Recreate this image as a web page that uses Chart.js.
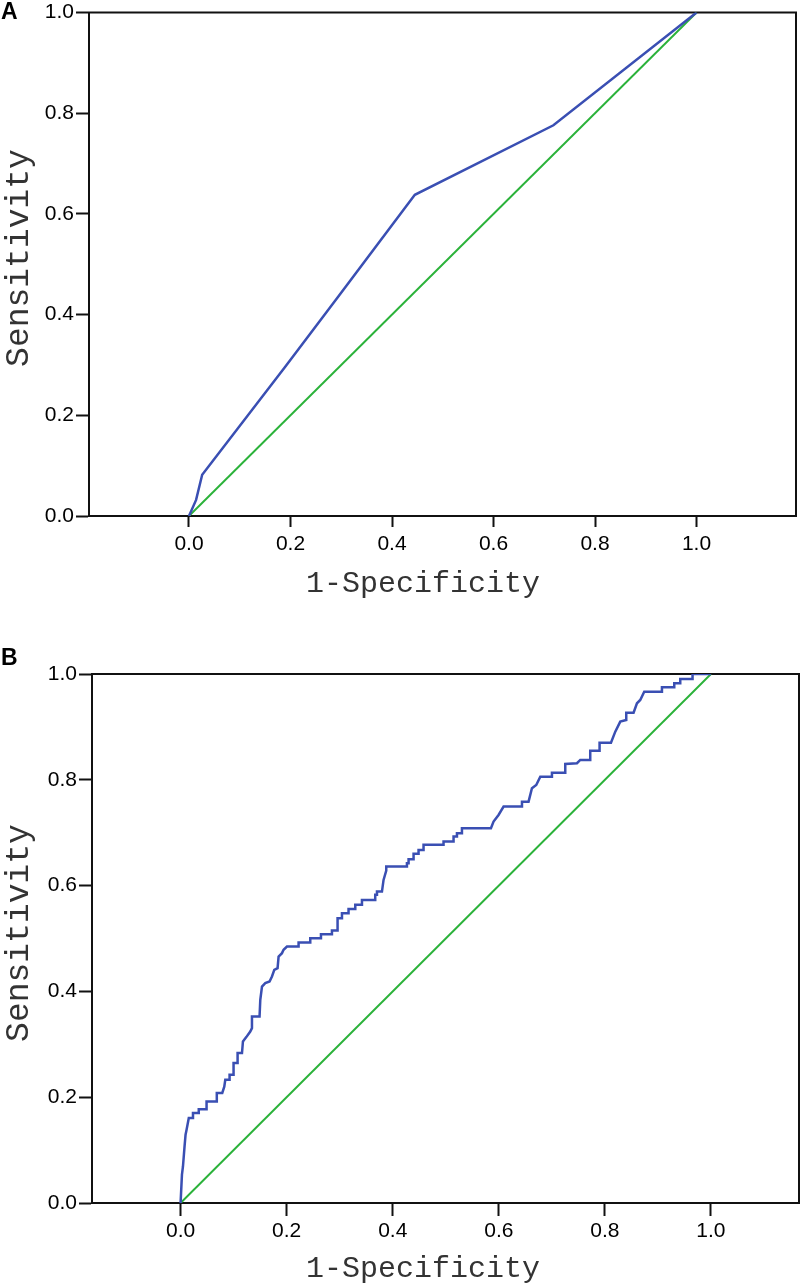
<!DOCTYPE html>
<html>
<head>
<meta charset="utf-8">
<script src="https://cdn.jsdelivr.net/npm/chart.js@4.4.1/dist/chart.umd.min.js"></script>
<style>
  html, body { margin: 0; padding: 0; background: #fff; }
  body { width: 800px; height: 1284px; position: relative; overflow: hidden; }
  .panel { position: absolute; left: 0; width: 800px; height: 642px; }
  .tag { position: absolute; font: bold 23px "Liberation Sans", Arial, sans-serif; color: #000; }
</style>
</head>
<body>
<div class="panel" style="top:0"><canvas id="rocA"></canvas></div>
<div class="panel" style="top:642px"><canvas id="rocB"></canvas></div>
<div class="tag" style="left:1px; top:-2px">A</div>
<div class="tag" style="left:1px; top:644px">B</div>
<script>
"use strict";

// Panel A: ROC curve vertices (1-specificity, sensitivity)
const fprA = [0, 0.014, 0.026, 0.19, 0.295, 0.445, 0.718, 1.0];
const tprA = [0, 0.032, 0.082, 0.297, 0.437, 0.638, 0.776, 1.0];

// Panel B: ROC curve vertices
const fprB = [
  0, 0.0026, 0.0045, 0.0075, 0.0094, 0.0113, 0.0155, 0.0234, 0.0234, 0.0343,
  0.0343, 0.049, 0.049, 0.0683, 0.0683, 0.0786, 0.0824, 0.0843, 0.0924, 0.0924,
  0.0999, 0.0999, 0.1075, 0.1075, 0.1158, 0.1176, 0.1239, 0.1314, 0.1346, 0.1346,
  0.1489, 0.1503, 0.1535, 0.1597, 0.1678, 0.1723, 0.1767, 0.1829, 0.1848, 0.1912,
  0.1942, 0.2006, 0.2225, 0.2225, 0.2445, 0.2445, 0.2647, 0.2647, 0.2854, 0.2854,
  0.296, 0.296, 0.3043, 0.3043, 0.3167, 0.3167, 0.3294, 0.3294, 0.342, 0.342,
  0.367, 0.367, 0.3703, 0.3703, 0.3797, 0.3827, 0.3878, 0.3878, 0.4268, 0.4268,
  0.4299, 0.4299, 0.4393, 0.4393, 0.4487, 0.4487, 0.4581, 0.4581, 0.4958, 0.4958,
  0.5147, 0.5147, 0.5211, 0.5211, 0.5305, 0.5305, 0.5852, 0.5901, 0.5995, 0.609,
  0.6437, 0.6437, 0.6561, 0.6625, 0.6706, 0.6782, 0.7002, 0.7002, 0.7253, 0.7253,
  0.7474, 0.7536, 0.7724, 0.7724, 0.79, 0.79, 0.8115, 0.8196, 0.829, 0.8403,
  0.8403, 0.8541, 0.8605, 0.8667, 0.8742, 0.9076, 0.9076, 0.9308, 0.9308, 0.9421,
  0.9421, 0.9653, 0.9653, 1.0
];
const tprB = [
  0, 0.0535, 0.069, 0.107, 0.129, 0.1385, 0.1606, 0.1606, 0.170, 0.170,
  0.177, 0.177, 0.192, 0.192, 0.208, 0.208, 0.220, 0.233, 0.233, 0.2424,
  0.2424, 0.2645, 0.2645, 0.2834, 0.2834, 0.3053, 0.3136, 0.3242, 0.3306, 0.3525,
  0.3525, 0.3841, 0.4092, 0.4156, 0.4187, 0.4281, 0.4408, 0.444, 0.4659, 0.4723,
  0.4786, 0.4848, 0.4848, 0.4924, 0.4924, 0.5007, 0.5007, 0.5082, 0.5082, 0.515,
  0.515, 0.5385, 0.5385, 0.5479, 0.5479, 0.556, 0.556, 0.5636, 0.5636, 0.573,
  0.573, 0.5825, 0.5825, 0.5887, 0.5887, 0.6108, 0.6284, 0.6359, 0.6359, 0.6424,
  0.6424, 0.65, 0.65, 0.66, 0.66, 0.6675, 0.6675, 0.677, 0.677, 0.6832,
  0.6832, 0.6926, 0.6926, 0.699, 0.699, 0.7085, 0.7085, 0.721, 0.7336, 0.7493,
  0.7493, 0.7587, 0.7587, 0.784, 0.7903, 0.806, 0.806, 0.8135, 0.8135, 0.83,
  0.8313, 0.8375, 0.8375, 0.855, 0.855, 0.8702, 0.8702, 0.891, 0.9099, 0.9131,
  0.9269, 0.9269, 0.9447, 0.9509, 0.9666, 0.9666, 0.9749, 0.9749, 0.9824, 0.9824,
  0.9906, 0.9906, 1.0, 1.0
];

// Reference line
const refX = [0, 1];
const refY = [0, 1];

const tickValues = [0, 0.2, 0.4, 0.6, 0.8, 1.0];

const toPoints = (xs, ys) => xs.map((x, i) => ({ x: x, y: ys[i] }));

// Draws the full box round the plot area
const frame = {
  id: 'frame',
  beforeDatasetsDraw(chart) {
    const { ctx, chartArea: a } = chart;
    ctx.save();
    ctx.strokeStyle = '#111';
    ctx.lineWidth = 2;
    ctx.strokeRect(a.left, a.top, a.right - a.left, a.bottom - a.top);
    ctx.restore();
  }
};

// Axis titles, placed where the reference has them
const axisTitles = {
  id: 'axisTitles',
  afterDraw(chart, args, opts) {
    const { ctx } = chart;
    ctx.save();
    ctx.fillStyle = '#333';
    ctx.textAlign = 'center';
    ctx.textBaseline = 'alphabetic';
    ctx.font = '30px "Liberation Mono", "Courier New", monospace';
    ctx.fillText('1-Specificity', opts.xTitle[0], opts.xTitle[1]);
    ctx.font = '33px "Liberation Mono", "Courier New", monospace';
    ctx.translate(opts.yTitle[0], opts.yTitle[1]);
    ctx.rotate(-Math.PI / 2);
    ctx.fillText('Sensitivity', 0, 0);
    ctx.restore();
  }
};

function makeRoc(canvasId, cfg) {
  const tickFont = { family: '"Liberation Sans", Arial, sans-serif', size: 21, lineHeight: 1 };
  return new Chart(document.getElementById(canvasId), {
    type: 'scatter',
    data: {
      datasets: [
        {
          label: 'ROC',
          data: toPoints(cfg.fpr, cfg.tpr),
          showLine: true,
          borderColor: '#3a4fb3',
          borderWidth: 2.5,
          pointRadius: 0,
          tension: 0
        },
        {
          label: 'Reference',
          data: toPoints(refX, refY),
          showLine: true,
          borderColor: '#2bb23a',
          borderWidth: 2,
          pointRadius: 0,
          tension: 0
        }
      ]
    },
    options: {
      responsive: true,
      maintainAspectRatio: false,
      animation: false,
      events: [],
      layout: { padding: cfg.padding },
      plugins: {
        legend: { display: false },
        tooltip: { enabled: false },
        axisTitles: { xTitle: cfg.xTitle, yTitle: cfg.yTitle }
      },
      scales: {
        x: {
          type: 'linear',
          min: cfg.xMin,
          max: cfg.xMax,
          afterBuildTicks: (s) => { s.ticks = tickValues.map(v => ({ value: v })); },
          afterFit: (s) => { s.height = cfg.xAxisHeight; },
          border: { display: true, color: '#111', width: 2 },
          grid: { drawOnChartArea: false, drawTicks: true, tickLength: cfg.xTickLen, tickWidth: 2, tickColor: '#111' },
          ticks: { color: '#000', font: tickFont, padding: cfg.xTickPad, maxRotation: 0, callback: (v) => v.toFixed(1) }
        },
        y: {
          type: 'linear',
          min: 0,
          max: 1,
          afterBuildTicks: (s) => { s.ticks = tickValues.map(v => ({ value: v })); },
          afterFit: (s) => { s.width = cfg.yAxisWidth; },
          border: { display: true, color: '#111', width: 2 },
          grid: { drawOnChartArea: false, drawTicks: true, tickLength: 13, tickWidth: 2, tickColor: '#111' },
          ticks: { color: '#000', font: tickFont, padding: 2, callback: (v) => v.toFixed(1) }
        }
      }
    },
    plugins: [frame, axisTitles]
  });
}

makeRoc('rocA', {
  fpr: fprA, tpr: tprA,
  xMin: -0.197, xMax: 1.196,
  padding: { top: 10, right: 4, left: 0, bottom: 0 },
  yAxisWidth: 89, xAxisHeight: 126,
  xTickLen: 11, xTickPad: 7,
  xTitle: [423, 592], yTitle: [28, 258]
});

makeRoc('rocB', {
  fpr: fprB, tpr: tprB,
  xMin: -0.167, xMax: 1.166,
  padding: { top: 32, right: 1, left: 0, bottom: 0 },
  yAxisWidth: 92, xAxisHeight: 81,
  xTickLen: 13, xTickPad: 5,
  xTitle: [423, 635], yTitle: [28, 291]
});
</script>
</body>
</html>
